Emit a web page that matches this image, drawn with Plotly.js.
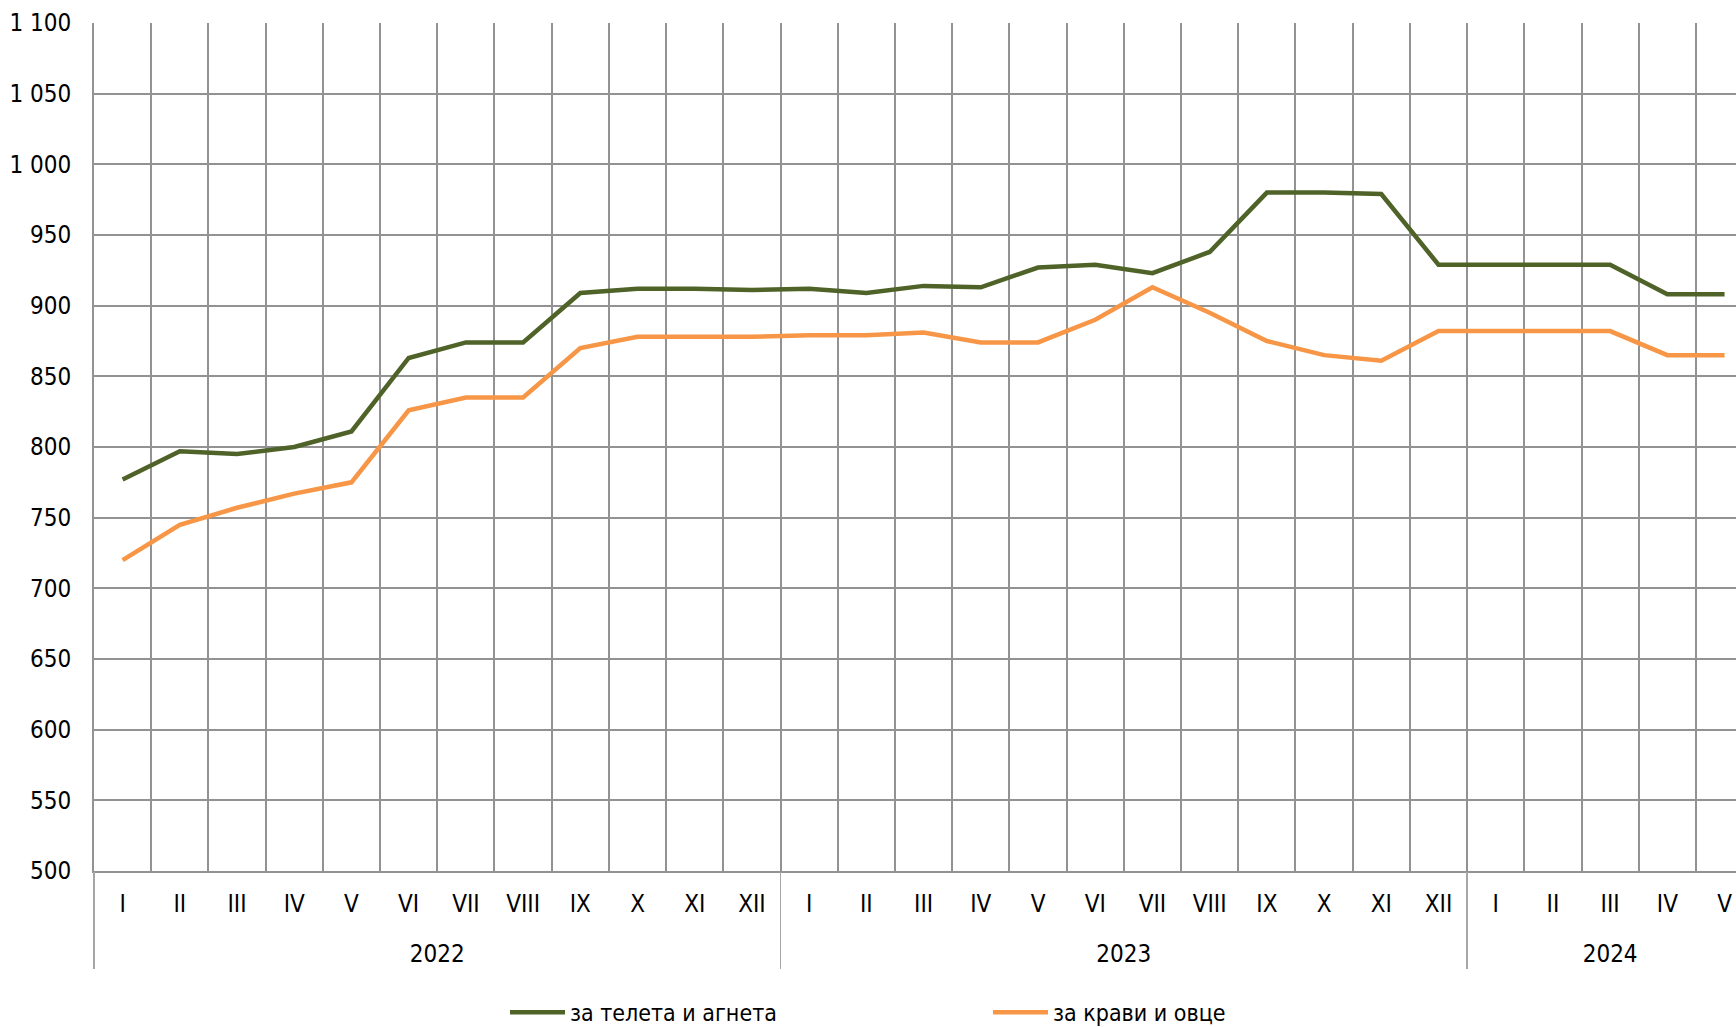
<!DOCTYPE html>
<html>
<head>
<meta charset="utf-8">
<script src="https://cdn.plot.ly/plotly-3.0.1.min.js"></script>
<style>html,body{margin:0;padding:0;background:#fff;}#chart{width:1736px;height:1027px;}</style>
</head>
<body>
<div id="chart"></div>
<script>
const months = ["I","II","III","IV","V","VI","VII","VIII","IX","X","XI","XII",
                "I","II","III","IV","V","VI","VII","VIII","IX","X","XI","XII",
                "I","II","III","IV","V"];
const years = ["2022","2023","2024"];
const yearCenters = [5.5, 17.5, 26];
const yearBounds = [-0.5, 11.5, 23.5];
const calvesLambs = [777,797,795,800,811,863,874,874,909,912,912,911,
                     912,909,914,913,927,929,923,938,980,980,979,929,
                     929,929,929,908,908];
const cowsSheep = [720,745,757,767,775,826,835,835,870,878,878,878,
                   879,879,881,874,874,890,913,895,875,865,861,882,
                   882,882,882,865,865];
const yTickVals = [500,550,600,650,700,750,800,850,900,950,1000,1050,1100];
const yTickText = ["500","550","600","650","700","750","800","850","900","950","1 000","1 050","1 100"];
const seriesNames = ["за телета и агнета","за крави и овце"];

const FONT = "'Liberation Sans Narrow','Arial Narrow','DejaVu Sans Condensed',sans-serif";
const GRID = "#929292";
const idx = months.map((_, i) => i);
const bounds = months.map((_, i) => i - 0.5).concat([months.length - 0.5]);
const xr = [-0.5, 28.2];
const tf = {family: FONT, size: 24, color: "#000"};

const traces = [
  {x: idx, y: calvesLambs, name: seriesNames[0], type: "scatter", mode: "lines",
   line: {color: "#4F6228", width: 4.5}, xaxis: "x", yaxis: "y"},
  {x: idx, y: cowsSheep, name: seriesNames[1], type: "scatter", mode: "lines",
   line: {color: "#F79646", width: 4.5}, xaxis: "x", yaxis: "y"},
  {x: bounds, y: bounds.map(() => null), xaxis: "x2", yaxis: "y", type: "scatter", mode: "lines",
   showlegend: false, hoverinfo: "skip"},
  {x: yearCenters, y: yearCenters.map(() => null), xaxis: "x3", yaxis: "y", type: "scatter", mode: "lines",
   showlegend: false, hoverinfo: "skip"},
  {x: yearBounds, y: yearBounds.map(() => null), xaxis: "x4", yaxis: "y", type: "scatter", mode: "lines",
   showlegend: false, hoverinfo: "skip"}
];

const layout = {
  width: 1736, height: 1027,
  margin: {l: 94, r: 0, t: 23, b: 59, autoexpand: false},
  paper_bgcolor: "#fff", plot_bgcolor: "#fff",
  font: tf,
  showlegend: true,
  legend: {orientation: "h", x: (505 - 94) / 1642, xanchor: "left", y: -0.047, yanchor: "middle",
           font: {family: FONT, size: 23, color: "#000"}, entrywidth: 413, entrywidthmode: "pixels", itemwidth: 55,
           bgcolor: "rgba(0,0,0,0)"},
  xaxis: {type: "linear", range: xr, tickmode: "array", tickvals: idx, ticktext: months,
          showgrid: false, zeroline: false, ticks: "", ticklabelstandoff: 10, tickfont: tf,
          showline: true, linecolor: GRID, linewidth: 2, fixedrange: true},
  xaxis2: {type: "linear", overlaying: "x", anchor: "y", side: "bottom", range: xr,
           tickmode: "array", tickvals: bounds, showticklabels: false,
           showgrid: true, gridcolor: GRID, gridwidth: 2, zeroline: false, ticks: ""},
  xaxis3: {type: "linear", overlaying: "x", anchor: "y", side: "bottom", range: xr,
           tickmode: "array", tickvals: yearCenters, ticktext: years, showgrid: false, zeroline: false,
           ticks: "", ticklabelstandoff: 66, tickfont: tf},
  xaxis4: {type: "linear", overlaying: "x", anchor: "y", side: "bottom", range: xr,
           tickmode: "array", tickvals: yearBounds, showticklabels: false, showgrid: false, zeroline: false,
           ticks: "outside", ticklen: 97, tickwidth: 1.5, tickcolor: "#a6a6a6"},
  yaxis: {range: [500, 1100], domain: [97 / 945, 1], tickmode: "array", tickvals: yTickVals, ticktext: yTickText,
          showgrid: true, gridcolor: GRID, gridwidth: 2, zeroline: false, ticks: "",
          showline: true, linecolor: GRID, linewidth: 2, ticklabelstandoff: 16,
          tickfont: tf, fixedrange: true}
};

Plotly.newPlot("chart", traces, layout, {displayModeBar: false, staticPlot: true});
</script>
</body>
</html>
